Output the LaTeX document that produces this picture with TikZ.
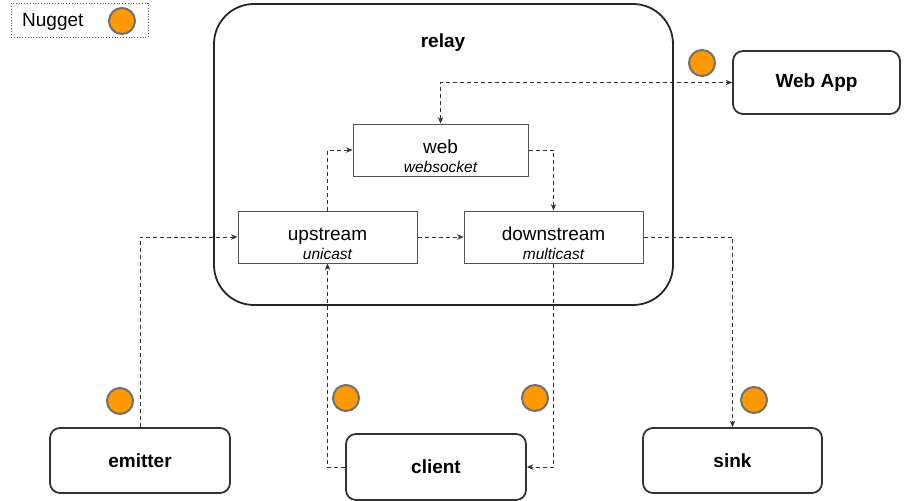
\documentclass[tikz,border=0pt]{standalone}
\usepackage{fontspec}
\setmainfont{Liberation Sans}
\usetikzlibrary{arrows.meta}
\definecolor{nuggetfill}{HTML}{FF9900}
\definecolor{nuggetline}{HTML}{707070}
\definecolor{boxline}{HTML}{333333}
\definecolor{innerline}{HTML}{555555}
\tikzset{
  outerbox/.style={draw=boxline, line width=1.8pt, rounded corners=10pt,
    minimum width=178pt, minimum height=65pt, inner sep=0pt,
    font=\fontsize{19}{22}\selectfont\bfseries},
  innerbox/.style={draw=innerline, line width=1pt, minimum width=177pt,
    minimum height=52pt, inner sep=0pt},
  nugget/.style={circle, draw=nuggetline, fill=nuggetfill, line width=2pt,
    minimum size=26pt, inner sep=0pt},
  conn/.style={draw=boxline, line width=0.9pt, dash pattern=on 4pt off 3pt,
    -{Stealth[length=6.5pt,width=5.5pt]}},
  mainlbl/.style={font=\fontsize{19}{22}\selectfont, inner sep=0pt},
  sublbl/.style={font=\fontsize{15.5}{18}\selectfont\itshape, inner sep=0pt}
}
\begin{document}
\begin{tikzpicture}[x=1pt,y=-1pt]
\useasboundingbox (0,0) rectangle (906,501);

% legend
\node[draw=innerline, line width=0.8pt, dotted, minimum width=137pt,
  minimum height=34pt, inner sep=0pt] (legend) at (79.5,20) {};
\node[mainlbl, anchor=west] (legendtxt) at (22,22) {Nugget};
\node[nugget] (legendnug) at (122,21) {};

% relay container
\node[draw=black!85, line width=1.8pt, rounded corners=40pt,
  minimum width=459pt, minimum height=301pt, inner sep=0pt] (relay) at (443.5,154.5) {};
\node[font=\fontsize{19}{22}\selectfont\bfseries] (relaylbl) at (443,43) {relay};

% inner components
\node[innerbox, minimum width=175pt] (web) at (440.5,150) {};
\node[mainlbl, anchor=base] (webname) at ([yshift=-3pt]web.center) {web};
\node[sublbl, anchor=base] (webkind) at ([yshift=-22.5pt]web.center) {websocket};

\node[innerbox, minimum width=179pt] (upstream) at (327.5,237) {};
\node[mainlbl, anchor=base] (upname) at ([yshift=-3pt]upstream.center) {upstream};
\node[sublbl, anchor=base] (upkind) at ([yshift=-22.5pt]upstream.center) {unicast};

\node[innerbox, minimum width=179pt] (downstream) at (553.5,237) {};
\node[mainlbl, anchor=base] (downname) at ([yshift=-3pt]downstream.center) {downstream};
\node[sublbl, anchor=base] (downkind) at ([yshift=-22.5pt]downstream.center) {multicast};

% external parties
\node[outerbox, minimum width=167pt, minimum height=63pt] (webapp) at (816.5,82.5) {Web App};
\node[outerbox, minimum width=180pt] (emitter) at (140,460.5) {emitter};
\node[outerbox, minimum width=180pt, minimum height=66pt] (client) at (436,467) {client};
\node[outerbox, minimum width=179pt] (sink) at (732.5,460.5) {sink};

% nuggets
\node[nugget] (nugwebapp) at (702,63) {};
\node[nugget] (nugemitter) at (120,401) {};
\node[nugget] (nugclientin) at (346,398) {};
\node[nugget] (nugclientout) at (535,398) {};
\node[nugget] (nugsink) at (754,400) {};

% data flow
\draw[conn] (emitter.north) |- (upstream.west);
\draw[conn] (upstream.north) |- (web.west);
\draw[conn] (web.east) -| (downstream.north);
\draw[conn] (upstream.east) -- (downstream.west);
\draw[conn] (downstream.east) -| (sink.north);
\draw[conn] (downstream.south) |- (client.east);
\draw[conn] (client.west) -| (upstream.south);
\draw[conn, {Stealth[length=6.5pt,width=5.5pt]}-{Stealth[length=6.5pt,width=5.5pt]}] (web.north) |- (webapp.west);
\end{tikzpicture}
\end{document}
